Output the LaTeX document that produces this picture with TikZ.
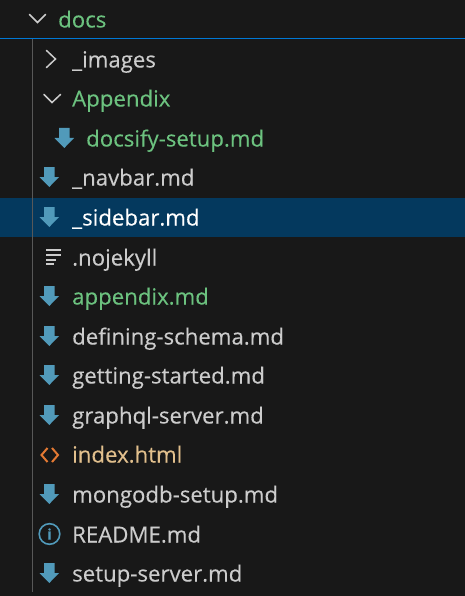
\documentclass[tikz,border=0pt]{standalone}
\usepackage{fontspec}
\setmainfont{Open Sans}[RawFeature={embolden=0.25}]
\definecolor{panelbg}{HTML}{181818}
\definecolor{rowsel}{HTML}{04395E}
\definecolor{focusline}{HTML}{0078D4}
\definecolor{guideline}{HTML}{585858}
\definecolor{plainname}{HTML}{CCCCCC}
\definecolor{newname}{HTML}{6CC27F}
\definecolor{htmlname}{HTML}{E2C08D}
\definecolor{mdblue}{HTML}{519ABA}
\definecolor{htmlorange}{HTML}{E37933}
\newcommand{\mdarrow}[2]{\fill[mdblue] (#1-5,#2-10) -- (#1+5.5,#2-10) -- (#1+5.5,#2) -- (#1+10,#2) -- (#1+0.3,#2+10) -- (#1-9.5,#2) -- (#1-5,#2) -- cycle;}
\tikzset{
  fname/.style={anchor=base west, inner sep=0pt, text=plainname, font=\fontsize{22.2}{26}\selectfont},
  fnew/.style={fname, text=newname},
  chevron/.style={draw=plainname, line width=1.5pt, line cap=round, line join=miter},
}
\begin{document}
\begin{tikzpicture}[x=1pt, y=-1pt]
  \useasboundingbox (0,0) rectangle (465,596);
  \fill[panelbg] (0,0) rectangle (465,596);
  \fill[rowsel] (0,197.5) rectangle (465,237);
  \draw[focusline, line width=1.2pt] (0,38.5) -- (465,38.5);
  \draw[guideline, line width=0.8pt] (32.5,39) -- (32.5,592);
  \draw[chevron] (29.5,14.5) -- (37.5,22.5) -- (45.5,14.5);
  \draw[chevron] (46.5,50.5) -- (55.5,59) -- (46.5,67.5);
  \draw[chevron] (44,94.5) -- (52,102.5) -- (60.5,94.5);
  \mdarrow{64}{138}
  \mdarrow{49}{177}
  \mdarrow{49}{217}
  \mdarrow{49}{296}
  \mdarrow{49}{336}
  \mdarrow{49}{375}
  \mdarrow{49}{415}
  \mdarrow{49}{494}
  \mdarrow{49}{573}
  \draw[plainname, line width=2pt] (46,249.5) -- (60.5,249.5);
  \draw[plainname, line width=2pt] (46,254.5) -- (60.5,254.5);
  \draw[plainname, line width=2pt] (46,259.5) -- (56,259.5);
  \draw[plainname, line width=2pt] (46,264) -- (54,264);
  \draw[htmlorange, line width=2pt] (47.5,448) -- (41.5,455) -- (47.5,462);
  \draw[htmlorange, line width=2pt] (52,448) -- (58,455) -- (52,462);
  \draw[mdblue, line width=1.6pt] (49.5,534) circle (10.3);
  \node[inner sep=0pt, text=mdblue, font=\fontsize{15}{15}\selectfont\bfseries] (readmeicon) at (49.5,534) {i};
  \node[fnew] (docs) at (58,27.5) {docs};
  \node[fname] (images) at (72,67.5) {\_images};
  \node[fnew] (appendixdir) at (72,106.5) {Appendix};
  \node[fnew] (docsify) at (86,146.5) {docsify-setup.md};
  \node[fname] (navbar) at (72,185.5) {\_navbar.md};
  \node[fname, text=white] (sidebar) at (72,225.5) {\_sidebar.md};
  \node[fname] (nojekyll) at (72,265.5) {.nojekyll};
  \node[fnew] (appendixmd) at (72,304.5) {appendix.md};
  \node[fname] (defining) at (72,344.5) {defining-schema.md};
  \node[fname] (getting) at (72,383.5) {getting-started.md};
  \node[fname] (graphql) at (72,423.5) {graphql-server.md};
  \node[fname, text=htmlname] (index) at (72,462.5) {index.html};
  \node[fname] (mongodb) at (72,502.5) {mongodb-setup.md};
  \node[fname] (readme) at (72,542.5) {README.md};
  \node[fname] (setup) at (72,581.5) {setup-server.md};
\end{tikzpicture}
\end{document}
